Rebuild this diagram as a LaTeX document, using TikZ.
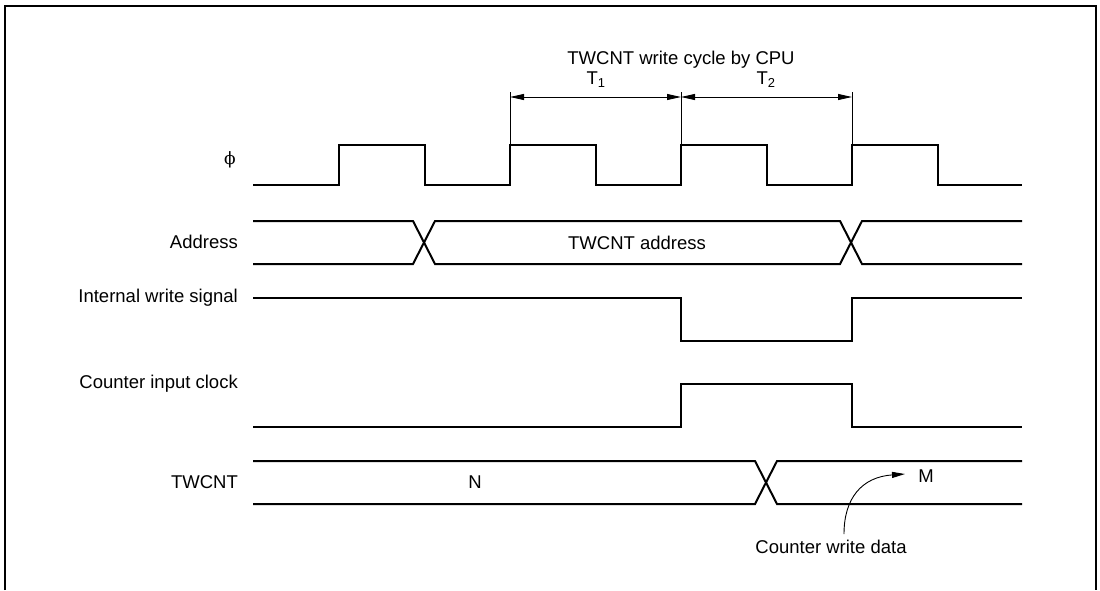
\documentclass[tikz,border=0pt]{standalone}
\usepackage{fontspec}
\setmainfont{Liberation Sans}
\newfontfamily\phifont{DejaVu Serif}
\usetikzlibrary{arrows.meta}
\begin{document}
\begin{tikzpicture}[x=1pt, y=-1pt,
    every node/.style={font=\fontsize{18.5}{21}\selectfont, inner sep=0pt},
    sig/.style={line width=2pt, line join=miter},
    dim/.style={line width=0.9pt},
    ptr/.style={line width=0.9pt, -{Triangle[length=13pt, width=6pt]}}]
    \useasboundingbox (0,0) rectangle (1100,590);

    % Rahmen (unten offen)
    \draw[line width=2.4pt] (5,590) -- (5,6) -- (1096,6) -- (1096,590);

    % Signalnamen
    \node (lblphi)  at (230,160) {\phifont\fontsize{17}{20}\selectfont ϕ};
    \node[anchor=east] (lbladdr) at (238,242) {Address};
    \node[anchor=east] (lblwr)   at (238,298) {Internal write signal};
    \node[anchor=east] (lblclk)  at (238,384) {Counter input clock};
    \node[anchor=east] (lblcnt)  at (238,482) {TWCNT};

    % Takt phi: steigende Flanken im Abstand 171
    \draw[sig] (253,185)
        foreach \x in {339,510,681,852} { -- (\x,185) -- (\x,145) -- (\x+86,145) -- (\x+86,185) }
        -- (1022,185);

    % Adressbus
    \draw[sig] (253,221) -- (413,221) -- (435,264) -- (840,264) -- (862,221) -- (1022,221);
    \draw[sig] (253,264) -- (413,264) -- (435,221) -- (840,221) -- (862,264) -- (1022,264);
    \node (addr) at (637,243) {TWCNT address};

    % Internes Schreibsignal
    \draw[sig] (253,298) -- (681,298) -- (681,341) -- (852,341) -- (852,298) -- (1022,298);

    % Zaehler-Eingangstakt
    \draw[sig] (253,427) -- (681,427) -- (681,384) -- (852,384) -- (852,427) -- (1022,427);

    % TWCNT
    \draw[sig] (253,461) -- (755,461) -- (777,504) -- (1022,504);
    \draw[sig] (253,504) -- (755,504) -- (777,461) -- (1022,461);
    \node (valn) at (475,482) {N};
    \node (valm) at (926,476) {M};

    % Schreibzyklus T1/T2
    \foreach \x in {510,681,852}
        \draw[dim] (\x,92) -- (\x,145);
    \draw[dim, {Triangle[length=14pt, width=6pt]}-{Triangle[length=14pt, width=6pt]}] (510,97) -- (681,97);
    \draw[dim, {Triangle[length=14pt, width=6pt]}-{Triangle[length=14pt, width=6pt]}] (681,97) -- (852,97);
    \node (t1) at (596,80) {T\textsubscript{1}};
    \node (t2) at (766,80) {T\textsubscript{2}};
    \node (cycle) at (681,60) {TWCNT write cycle by CPU};

    % Hinweis auf Schreibdaten
    \node (cwd) at (831,547) {Counter write data};
    \coordinate (cwdtip) at (905,474);
    \draw[ptr] ([xshift=13pt, yshift=6pt]cwd.north) .. controls (844,498) and (862,477) .. (cwdtip);
\end{tikzpicture}
\end{document}
